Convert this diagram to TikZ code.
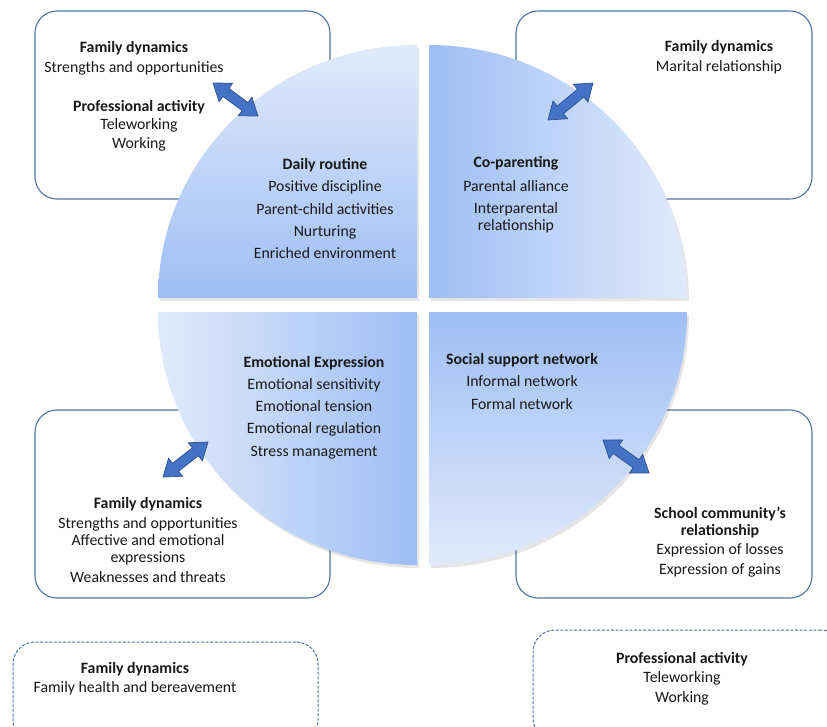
\documentclass[tikz,border=0pt]{standalone}
\usepackage{fontspec}
\setmainfont{Carlito}
\usetikzlibrary{calc}
\definecolor{qlight}{RGB}{224,234,251}
\definecolor{qdark}{RGB}{158,190,244}
\definecolor{boxline}{RGB}{80,114,165}
\definecolor{arrfill}{RGB}{68,114,196}
\definecolor{arrline}{RGB}{47,82,143}
\definecolor{txt}{RGB}{25,25,25}
\tikzset{
  boxshape/.style={draw=boxline, line width=1.1pt, rounded corners=22pt, fill=white, inner sep=0pt},
  dashbox/.style={boxshape, dash pattern=on 3pt off 1.6pt, line width=1pt},
  lbl/.style={align=center, text=txt, inner sep=0pt, font=\fontsize{15.8}{17.2}\selectfont},
  shadowq/.style={fill=black, opacity=0.10},
}
\newcommand{\dblarr}[2]{%
  \coordinate (h1) at ($(#1)!16pt!(#2)$);
  \coordinate (h2) at ($(#2)!16pt!(#1)$);
  \filldraw[fill=arrfill, draw=arrline, line width=0.7pt, line join=miter]
    (#1) -- ($(h1)!11.5pt!90:(#2)$) -- ($(h1)!5pt!90:(#2)$) -- ($(h2)!5pt!-90:(#1)$)
    -- ($(h2)!11.5pt!-90:(#1)$) -- (#2) -- ($(h2)!11.5pt!90:(#1)$) -- ($(h2)!5pt!90:(#1)$)
    -- ($(h1)!5pt!-90:(#2)$) -- ($(h1)!11.5pt!-90:(#2)$) -- cycle;}
\begin{document}
\begin{tikzpicture}[x=1pt,y=-1pt]
\clip (0,0) rectangle (827,726);
\fill[white] (0,0) rectangle (827,726);
% outer boxes
\node[boxshape, minimum width=295pt, minimum height=188pt] (boxTL) at (182.5,105) {};
\node[boxshape, minimum width=296pt, minimum height=188pt] (boxTR) at (664,105) {};
\node[boxshape, minimum width=295pt, minimum height=188pt] (boxBL) at (182.5,504) {};
\node[boxshape, minimum width=296pt, minimum height=188pt] (boxBR) at (664,504) {};
\node[dashbox, minimum width=305pt, minimum height=100pt] (dboxL) at (165.5,692) {};
\node[dashbox, minimum width=310pt, minimum height=110pt] (dboxR) at (688,685) {};
% shadows
\fill[shadowq] (419,301) -- (160,301) arc[start angle=180,end angle=90,x radius=259pt,y radius=253pt] -- cycle;
\fill[shadowq] (431,301) -- (431,48) arc[start angle=90,end angle=0,x radius=258pt,y radius=253pt] -- cycle;
\fill[shadowq] (419,315) -- (160,315) arc[start angle=180,end angle=270,x radius=259pt,y radius=253pt] -- cycle;
\fill[shadowq] (431,315) -- (689,315) arc[start angle=0,end angle=-90,x radius=258pt,y radius=253pt] -- cycle;
% quadrants
\shade[top color=qlight, bottom color=qdark] (417,298) -- (158,298) arc[start angle=180,end angle=90,x radius=259pt,y radius=253pt] -- cycle;
\shade[left color=qdark, right color=qlight] (429,298) -- (429,45) arc[start angle=90,end angle=0,x radius=258pt,y radius=253pt] -- cycle;
\shade[left color=qlight, right color=qdark] (417,312) -- (158,312) arc[start angle=180,end angle=270,x radius=259pt,y radius=253pt] -- cycle;
\shade[top color=qdark, bottom color=qlight] (429,312) -- (687,312) arc[start angle=0,end angle=-90,x radius=258pt,y radius=253pt] -- cycle;
% texts
\node[lbl] (tA) at (134,58) {\textbf{Family dynamics}\\[3pt]Strengths and opportunities};
\node[lbl] (tB) at (139,125.5) {\textbf{Professional activity}\\[1.5pt]Teleworking\\[1.5pt]Working};
\node[lbl] (tC) at (719,57) {\textbf{Family dynamics}\\[3pt]Marital relationship};
\node[lbl] (dr) at (325,208.5) {\textbf{Daily routine}\\[5pt]Positive discipline\\[5pt]Parent-child activities\\[5pt]Nurturing\\[5pt]Enriched environment};
\node[lbl] (cp) at (516,195) {\textbf{Co-parenting}\\[6pt]Parental alliance\\[5pt]Interparental\\relationship};
\node[lbl] (ee) at (314,407.5) {\textbf{Emotional Expression}\\[5pt]Emotional sensitivity\\[5pt]Emotional tension\\[5pt]Emotional regulation\\[5pt]Stress management};
\node[lbl] (ss) at (522,381.5) {\textbf{Social support network}\\[5pt]Informal network\\[5.5pt]Formal network};
\node[lbl] (tD) at (148,540) {\textbf{Family dynamics}\\[3pt]Strengths and opportunities\\Affective and emotional\\expressions\\[3pt]Weaknesses and threats};
\node[lbl] (tE) at (720,542) {\textbf{School community's}\\\textbf{relationship}\\[2pt]Expression of losses\\[3pt]Expression of gains};
\node[lbl] (tF) at (135,678.5) {\textbf{Family dynamics}\\[2pt]Family health and bereavement};
\node[lbl] (tG) at (682,678.5) {\textbf{Professional activity}\\[2pt]Teleworking\\[3pt]Working};
% arrows
\coordinate (a1) at (213,83); \coordinate (b1) at (258,116);
\coordinate (a2) at (593,83); \coordinate (b2) at (548,120);
\coordinate (a3) at (208,442); \coordinate (b3) at (163,477);
\coordinate (a4) at (603,440); \coordinate (b4) at (649,473);
\dblarr{a1}{b1}
\dblarr{a2}{b2}
\dblarr{a3}{b3}
\dblarr{a4}{b4}
\end{tikzpicture}
\end{document}
